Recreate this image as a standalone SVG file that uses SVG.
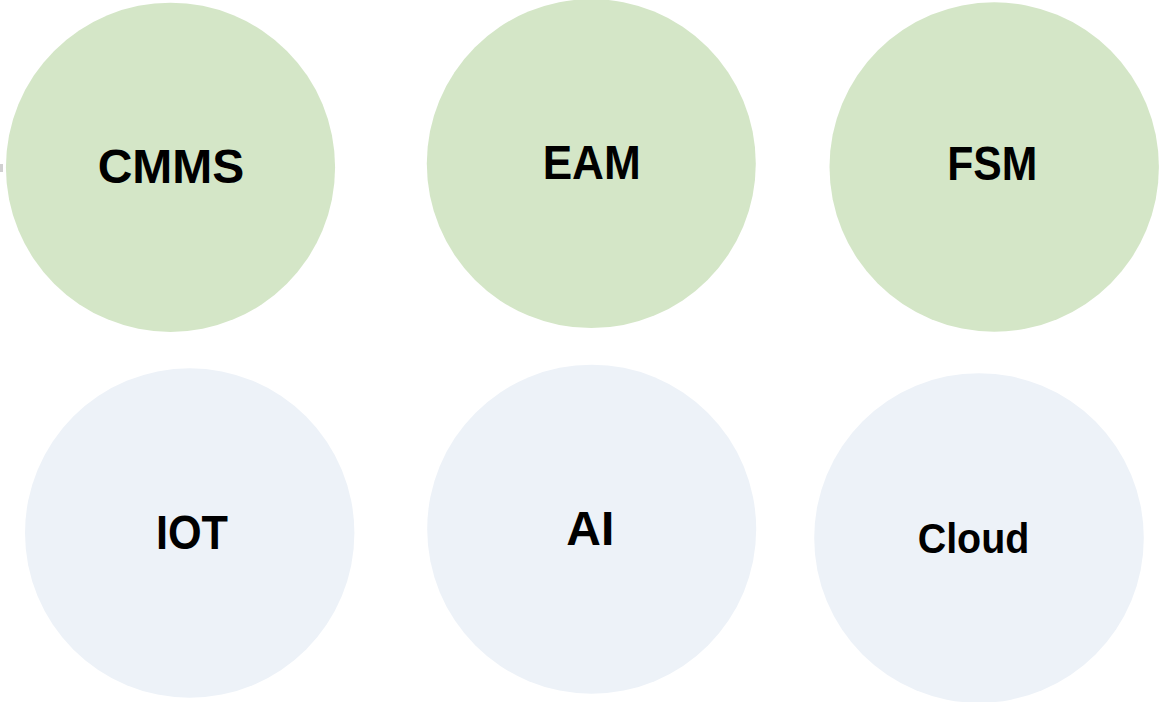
<svg xmlns="http://www.w3.org/2000/svg" width="1160" height="702" viewBox="0 0 1160 702">
  <style>
    .top { fill: #D4E6C7; }
    .bot { fill: #EDF2F8; }
    .lbl { font-family: "Liberation Sans", Arial, sans-serif; font-weight: bold; font-size: 48px; fill: #000; text-anchor: middle; }
    .sm { font-size: 42px; }
  </style>
  <rect width="1160" height="702" fill="#FFFFFF"/>
  <rect x="0" y="164" width="3" height="8" fill="#D0D0D0"/>
  <g id="connectors"></g>
  <g id="node-cmms">
    <circle class="top" cx="170.5" cy="167.3" r="164.6"/>
    <text class="lbl" x="171" y="183">CMMS</text>
  </g>
  <g id="node-eam">
    <circle class="top" cx="591.3" cy="163.6" r="164.5"/>
    <text class="lbl" x="591.7" y="179" textLength="98" lengthAdjust="spacingAndGlyphs">EAM</text>
  </g>
  <g id="node-fsm">
    <circle class="top" cx="994.2" cy="167" r="164.7"/>
    <text class="lbl" x="992.3" y="180" textLength="90" lengthAdjust="spacingAndGlyphs">FSM</text>
  </g>
  <g id="node-iot">
    <circle class="bot" cx="189.7" cy="533" r="164.7"/>
    <text class="lbl" x="192" y="549" textLength="72" lengthAdjust="spacingAndGlyphs">IOT</text>
  </g>
  <g id="node-ai">
    <circle class="bot" cx="591.7" cy="529.2" r="164.5"/>
    <text class="lbl" x="590.3" y="545">AI</text>
  </g>
  <g id="node-cloud">
    <circle class="bot" cx="979" cy="538" r="164.8"/>
    <text class="lbl sm" x="973.5" y="552.7" textLength="111.6" lengthAdjust="spacingAndGlyphs">Cloud</text>
  </g>
</svg>
